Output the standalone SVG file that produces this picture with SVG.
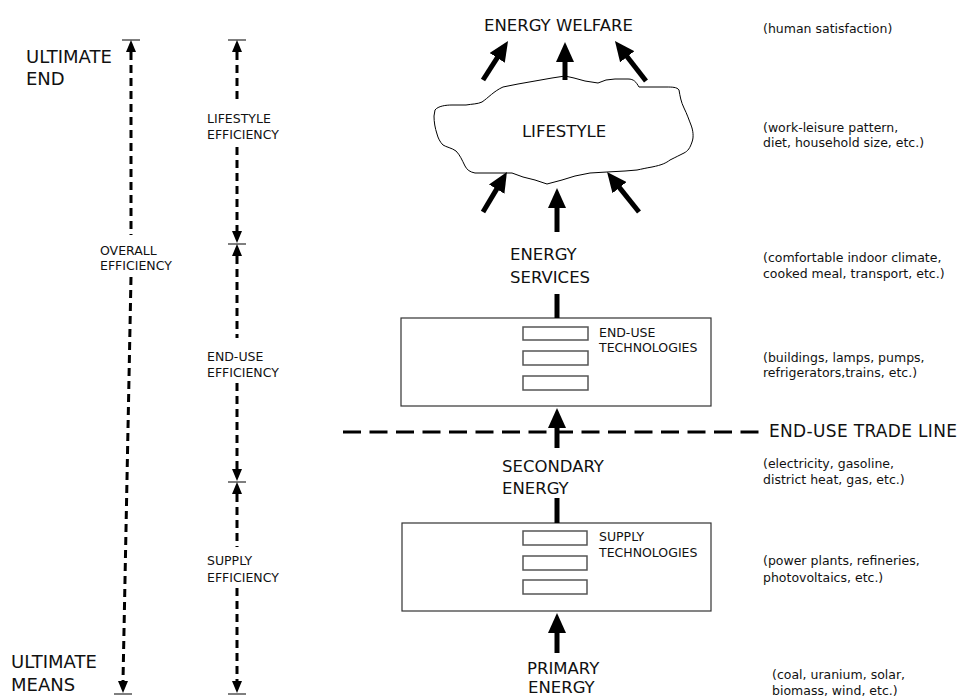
<svg xmlns="http://www.w3.org/2000/svg" width="960" height="699" viewBox="0 0 960 699">
<style>
text{font-family:"DejaVu Sans","Liberation Sans",sans-serif;fill:#111}
.big{font-size:16.5px}
.ult{font-size:18px}
.sm{font-size:12.5px}
.note{font-size:12.5px}
.dash{stroke:#000;stroke-width:3;stroke-dasharray:8 5;fill:none}
.bar{stroke:#555;stroke-width:1.5}
.head{fill:#000}
.conn{stroke:#000;stroke-width:5;fill:none}
.box{fill:#fff;stroke:#333;stroke-width:1.2}
.slot{fill:#fff;stroke:#555;stroke-width:1.5}
</style>
<defs>
<marker id="bighead" markerWidth="20" markerHeight="18" refX="2" refY="9" orient="auto" markerUnits="userSpaceOnUse" viewBox="0 0 20 18"><path d="M0,0 L20,9 L0,18 z" fill="#000"/></marker>
</defs>
<rect width="960" height="699" fill="#fff"/>

<g id="left-labels">
<text class="ult" x="26" y="63">ULTIMATE</text>
<text class="ult" x="26" y="85">END</text>
<text class="ult" x="11" y="668">ULTIMATE</text>
<text class="ult" x="11" y="691">MEANS</text>
</g>

<g id="overall-efficiency">
<line class="bar" x1="122" y1="40" x2="140" y2="40"/>
<polygon class="head" points="131,40 126,52 136,52"/>
<line class="dash" x1="131" y1="52" x2="131" y2="235"/>
<text class="sm" x="100" y="255">OVERALL</text>
<text class="sm" x="100" y="270">EFFICIENCY</text>
<line class="dash" x1="131" y1="277" x2="123" y2="681"/>
<polygon class="head" points="118,681 128,681 123,693"/>
<line class="bar" x1="114" y1="694" x2="132" y2="694"/>
</g>

<g id="stage-efficiencies">
<line class="bar" x1="228" y1="40" x2="246" y2="40"/>
<polygon class="head" points="237,40 232,52 242,52"/>
<line class="dash" x1="237" y1="52" x2="237" y2="103"/>
<text class="sm" x="207" y="123">LIFESTYLE</text>
<text class="sm" x="207" y="139">EFFICIENCY</text>
<line class="dash" x1="237" y1="147" x2="237" y2="232"/>
<polygon class="head" points="232,231 242,231 237,243"/>
<line class="bar" x1="228" y1="244" x2="246" y2="244"/>
<polygon class="head" points="237,244 232,256 242,256"/>
<line class="dash" x1="237" y1="256" x2="237" y2="338"/>
<text class="sm" x="207" y="361">END-USE</text>
<text class="sm" x="207" y="377">EFFICIENCY</text>
<line class="dash" x1="237" y1="383" x2="237" y2="469"/>
<polygon class="head" points="232,469 242,469 237,481"/>
<line class="bar" x1="228" y1="482" x2="246" y2="482"/>
<polygon class="head" points="237,482 232,494 242,494"/>
<line class="dash" x1="237" y1="494" x2="237" y2="547"/>
<text class="sm" x="207" y="565">SUPPLY</text>
<text class="sm" x="207" y="582">EFFICIENCY</text>
<line class="dash" x1="237" y1="588" x2="237" y2="681"/>
<polygon class="head" points="232,681 242,681 237,693"/>
<line class="bar" x1="228" y1="694" x2="246" y2="694"/>
</g>

<g id="trade-line">
<line x1="343" y1="432" x2="760" y2="432" stroke="#000" stroke-width="3" stroke-dasharray="18 8.5"/>
<text x="769" y="437" font-size="17" textLength="188" lengthAdjust="spacing">END-USE TRADE LINE</text>
</g>

<g id="energy-welfare">
<text class="big" x="558.5" y="31" text-anchor="middle">ENERGY WELFARE</text>
</g>

<g id="lifestyle">
<path d="M435,110 C438,106 446,105 452,105 L466,105 C472,104 478,104 482,102 C488,98 494,91 503,87 L518,84 L535,81 L552,78 L565,76 L574,78 L585,81 L598,83 L606,80 L615,79 L628,79 C634,79 636,82 639,87 L652,87 L666,87 C672,87 677,87 679,90 C680,96 681,102 684,108 C687,114 689,120 691,125 C693,130 694,137 692,142 C690,148 688,151 684,153 C680,155 676,157 670,160 C666,163 662,165 652,167 C646,168 642,169 637,170 L625,171 L607,172 L590,173 L575,176 L562,180 L547,184 L535,180 L523,177 L512,173 L498,173 L485,173 L475,173 C470,172 467,170 465,166 C462,160 460,155 456,151 C452,148 446,147 443,145 C440,142 438,138 437,134 C435,128 434,122 434,116 Z" fill="#fff" stroke="#000" stroke-width="1" stroke-linejoin="round"/>
<text class="big" x="564" y="137" text-anchor="middle">LIFESTYLE</text>
</g>

<g id="energy-services">
<text class="big" x="510" y="260">ENERGY</text>
<text class="big" x="510" y="283">SERVICES</text>
</g>

<g id="end-use-technologies">
<rect class="box" x="401" y="318" width="310" height="88"/>
<rect class="slot" x="523" y="327" width="65" height="13"/>
<rect class="slot" x="523" y="351" width="65" height="14"/>
<rect class="slot" x="523" y="376" width="65" height="14"/>
<text class="sm" x="599" y="337">END-USE</text>
<text class="sm" x="599" y="352">TECHNOLOGIES</text>
</g>

<g id="secondary-energy">
<text class="big" x="502" y="472">SECONDARY</text>
<text class="big" x="502" y="494">ENERGY</text>
</g>

<g id="supply-technologies">
<rect class="box" x="402" y="523" width="309" height="88"/>
<rect class="slot" x="523" y="531" width="64" height="14"/>
<rect class="slot" x="523" y="556" width="64" height="14"/>
<rect class="slot" x="523" y="580" width="64" height="14"/>
<text class="sm" x="599" y="541">SUPPLY</text>
<text class="sm" x="599" y="557">TECHNOLOGIES</text>
</g>

<g id="primary-energy">
<text class="big" x="527" y="674">PRIMARY</text>
<text class="big" x="528" y="693">ENERGY</text>
</g>

<g id="notes">
<text class="note" x="763" y="33">(human satisfaction)</text>
<text class="note" x="763" y="132">(work-leisure pattern,</text>
<text class="note" x="763" y="147">diet, household size, etc.)</text>
<text class="note" x="763" y="262">(comfortable indoor climate,</text>
<text class="note" x="763" y="278">cooked meal, transport, etc.)</text>
<text class="note" x="763" y="362">(buildings, lamps, pumps,</text>
<text class="note" x="763" y="377">refrigerators,trains, etc.)</text>
<text class="note" x="763" y="468">(electricity, gasoline,</text>
<text class="note" x="763" y="484">district heat, gas, etc.)</text>
<text class="note" x="763" y="565">(power plants, refineries,</text>
<text class="note" x="763" y="582">photovoltaics, etc.)</text>
<text class="note" x="772" y="679">(coal, uranium, solar,</text>
<text class="note" x="772" y="695">biomass, wind, etc.)</text>
</g>

<g id="connectors">
<line class="conn" x1="565" y1="80" x2="565" y2="60" marker-end="url(#bighead)"/>
<line class="conn" x1="483" y1="80" x2="498.3" y2="56.2" marker-end="url(#bighead)"/>
<line class="conn" x1="646" y1="81" x2="626" y2="55.2" marker-end="url(#bighead)"/>
<line class="conn" x1="483" y1="212" x2="497.7" y2="187.4" marker-end="url(#bighead)"/>
<line class="conn" x1="557" y1="232" x2="557" y2="206" marker-end="url(#bighead)"/>
<line class="conn" x1="639" y1="212" x2="618.3" y2="186.1" marker-end="url(#bighead)"/>
<line class="conn" x1="557" y1="294" x2="557" y2="318"/>
<line class="conn" x1="557" y1="448" x2="557" y2="426" marker-end="url(#bighead)"/>
<line class="conn" x1="557" y1="498" x2="557" y2="523"/>
<line class="conn" x1="557" y1="653" x2="557" y2="631" marker-end="url(#bighead)"/>
</g>
</svg>
